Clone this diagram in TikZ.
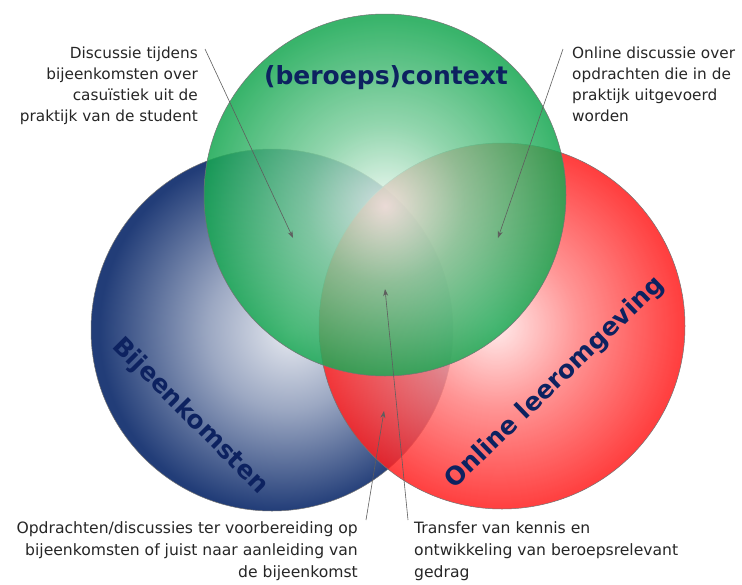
\documentclass[tikz,border=0pt]{standalone}
\usepackage{fontspec}
\setmainfont{DejaVu Sans}
\usetikzlibrary{arrows.meta}
\definecolor{bluecol}{HTML}{223D78}
\definecolor{greencol}{HTML}{17A852}
\definecolor{redcol}{HTML}{FF1E1E}
\definecolor{labelcol}{HTML}{0D2260}
\definecolor{arrowcol}{HTML}{5E5E5E}
\pgfdeclareradialshading{blueshade}{\pgfpoint{3bp}{0bp}}{color(0bp)=(white!90!bluecol); color(11bp)=(bluecol!45!white); color(25bp)=(bluecol); color(40bp)=(bluecol)}
\pgfdeclareradialshading{greenshade}{\pgfpoint{0bp}{-1.5bp}}{color(0bp)=(white!92!greencol); color(11bp)=(greencol!55!white); color(25bp)=(greencol); color(40bp)=(greencol)}
\pgfdeclareradialshading{redshade}{\pgfpoint{-1bp}{0bp}}{color(0bp)=(white!90!redcol); color(11bp)=(redcol!55!white); color(25bp)=(redcol); color(40bp)=(redcol)}
\tikzset{
  setcircle/.style={draw=black!55, line width=0.5pt},
  bigtext/.style={font=\fontsize{25}{30}\selectfont\bfseries, text=labelcol, inner sep=0pt},
  smalltext/.style={font=\fontsize{15.3}{21}\selectfont, inner sep=0pt, text=black!85},
  bottomtext/.style={font=\fontsize{15.6}{22}\selectfont, inner sep=0pt, text=black!85},
  pointer/.style={arrowcol, line width=0.6pt, -{Stealth[length=7pt,width=5pt]}}
}
\begin{document}
\begin{tikzpicture}[x=1pt,y=-1pt]
\useasboundingbox (0,0) rectangle (742,584);
\fill[white] (0,0) rectangle (742,584);
% circles
\coordinate (cb) at (272,330);
\coordinate (cr) at (502,326);
\coordinate (cg) at (385,195);
\shade[shading=blueshade, setcircle] (cb) circle[radius=181pt];
\shade[shading=redshade, setcircle, fill opacity=0.85] (cr) circle[radius=183pt];
\shade[shading=greenshade, setcircle, fill opacity=0.85] (cg) circle[radius=181pt];
% labels
\node[bigtext] (lctx) at (386,78) {(beroeps)context};
\node[bigtext, rotate=-45] (lbij) at (190,416) {Bijeenkomsten};
\node[bigtext, rotate=44] (lonl) at (555,383) {Online leeromgeving};
% texts
\node[smalltext, align=right, anchor=north east] (ttl) at (198,47) {Discussie tijdens\\bijeenkomsten over\\casuïstiek uit de\\praktijk van de student};
\node[smalltext, align=left, anchor=north west] (ttr) at (572,47) {Online discussie over\\opdrachten die in de\\praktijk uitgevoerd\\worden};
\node[bottomtext, align=right, anchor=north east] (tbl) at (358,521) {Opdrachten/discussies ter voorbereiding op\\bijeenkomsten of juist naar aanleiding van\\de bijeenkomst};
\node[bottomtext, align=left, anchor=north west] (tbr) at (414,521) {Transfer van kennis en\\ontwikkeling van beroepsrelevant\\gedrag};
% arrows
\coordinate (s1) at (205,49);
\coordinate (e1) at (293,238);
\coordinate (s2) at (563,49);
\coordinate (e2) at (498,238);
\coordinate (s3) at (366,520);
\coordinate (e3) at (384,411);
\coordinate (s4) at (408,520);
\coordinate (e4) at (385,289);
\draw[pointer] (s1) -- (e1);
\draw[pointer] (s2) -- (e2);
\draw[pointer] (s3) -- (e3);
\draw[pointer] (s4) -- (e4);
\end{tikzpicture}
\end{document}
